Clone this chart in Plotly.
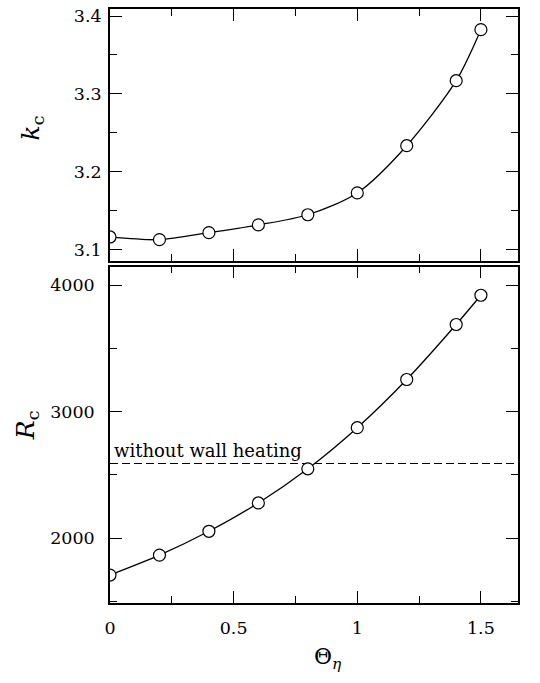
import plotly.graph_objects as go

theta = [0.0, 0.2, 0.4, 0.6, 0.8, 1.0, 1.2, 1.4, 1.5]
k_c = [3.1165, 3.113, 3.122, 3.132, 3.145, 3.173, 3.2336, 3.317, 3.3825]
R_c = [1709, 1866, 2055, 2279, 2549, 2874, 3255, 3690, 3921]
R_no_wall = 2591
x_range = [0.0, 1.65]
k_range = [3.086, 3.409]
R_range = [1488, 4147]

FONT = "DejaVu Serif"

fig = go.Figure()

marker = dict(symbol="circle", size=12, color="white", line=dict(color="black", width=1.2))
line = dict(color="black", width=1.3, shape="spline", smoothing=0.8)

fig.add_trace(go.Scatter(x=theta, y=k_c, mode="lines+markers", marker=marker, line=line,
                         showlegend=False, xaxis="x", yaxis="y"))
fig.add_trace(go.Scatter(x=x_range, y=[R_no_wall, R_no_wall], mode="lines",
                         line=dict(color="black", width=1.2, dash="8px,4px"),
                         showlegend=False, xaxis="x2", yaxis="y2"))
fig.add_trace(go.Scatter(x=theta, y=R_c, mode="lines+markers", marker=marker, line=line,
                         showlegend=False, xaxis="x2", yaxis="y2"))


def ax(**kw):
    d = dict(showline=True, linecolor="black", linewidth=1.6, mirror="ticks",
             ticks="inside", ticklen=12, tickwidth=1.3, tickcolor="black",
             showgrid=False, zeroline=False,
             tickfont=dict(family=FONT, size=17.5, color="black"))
    d.update(kw)
    return d


def minor(dt, t0):
    return dict(ticks="inside", ticklen=7, tickwidth=1.3, tickcolor="black", dtick=dt, tick0=t0)


fig.update_layout(
    width=540, height=683,
    margin=dict(l=110, r=22, t=6, b=80),
    plot_bgcolor="white",
    paper_bgcolor="white",
    font=dict(family=FONT, color="black"),
    xaxis=ax(range=x_range, dtick=0.5, tick0=0, minor=minor(0.25, 0), showticklabels=False,
             anchor="y", domain=[0, 1]),
    xaxis2=ax(range=x_range, dtick=0.5, tick0=0, minor=minor(0.25, 0), anchor="y2", domain=[0, 1],
              ticklabelstandoff=8),
    yaxis=ax(range=k_range, dtick=0.1, tick0=3.1, tickformat=".1f", anchor="x",
             domain=[0.5762, 1.0], minor=minor(0.05, 3.1), ticklabelstandoff=3),
    yaxis2=ax(range=R_range, dtick=1000, tick0=0, tickformat="d", anchor="x2",
              domain=[0.0, 0.5662], minor=minor(500, 0), ticklabelstandoff=10),
    annotations=[
        dict(text="<i>k</i><sub>c</sub>", xref="paper", yref="paper", x=-0.192, y=0.80,
             textangle=-90, showarrow=False, font=dict(family=FONT, size=25, color="black"),
             xanchor="center", yanchor="middle"),
        dict(text="<i>R</i><sub>c</sub>", xref="paper", yref="paper", x=-0.205, y=0.30,
             textangle=-90, showarrow=False, font=dict(family=FONT, size=25, color="black"),
             xanchor="center", yanchor="middle"),
        dict(text="&#920;<sub><i>&#951;</i></sub>", xref="paper", yref="paper", x=0.535, y=-0.093,
             showarrow=False, font=dict(family=FONT, size=22, color="black"),
             xanchor="center", yanchor="middle"),
        dict(text="without wall heating", xref="paper", yref="y2", x=0.005, y=R_no_wall,
             showarrow=False, font=dict(family=FONT, size=18, color="black"),
             xanchor="left", yanchor="bottom", yshift=0),
    ],
)

fig.write_html("out.html")
